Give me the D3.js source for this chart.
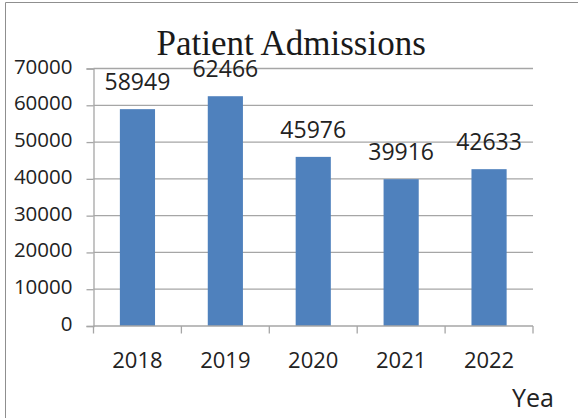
<!DOCTYPE html>
<html>
<head>
<meta charset="utf-8">
<script src="https://cdn.jsdelivr.net/npm/d3@7"></script>
<style>
  html, body { margin: 0; padding: 0; background: #fff; }
  svg { display: block; }
</style>
</head>
<body>
<script>
// Yearly patient admissions
const years = ["2018", "2019", "2020", "2021", "2022"];
const admissions = [58949, 62466, 45976, 39916, 42633];
const yTicks = [0, 10000, 20000, 30000, 40000, 50000, 60000, 70000];
const chartTitle = "Patient Admissions";
const xAxisTitle = "Yea";

const W = 578, H = 418;
const svg = d3.select("body").append("svg").attr("width", W).attr("height", H);

// outer chart frame
svg.append("path")
  .attr("d", "M5.5,420 V2.5 H580")
  .attr("fill", "none").attr("stroke", "#8f8f8f").attr("stroke-width", 1);

const plot = { left: 93.5, right: 533, top: 68.5, bottom: 326 };

const x = d3.scaleBand().domain(years)
  .range([plot.left, plot.right]).paddingInner(0.6).paddingOuter(0.3);
const y = d3.scaleLinear().domain([0, 70000]).range([plot.bottom, plot.top]);

const sans = "'Open Sans', 'Noto Sans', sans-serif";
const gridColor = "#a6a6a6";

// horizontal gridlines
svg.append("g").selectAll("line").data(yTicks.filter(d => d > 0)).join("line")
  .attr("x1", plot.left).attr("x2", plot.right)
  .attr("y1", d => y(d)).attr("y2", d => y(d))
  .attr("stroke", gridColor).attr("stroke-width", 1.3);

// y axis
const yAxis = svg.append("g")
  .attr("transform", `translate(${plot.left},0)`)
  .call(d3.axisLeft(y).tickValues(yTicks).tickFormat(d3.format("d")).tickSize(7).tickPadding(14));
yAxis.select(".domain").attr("stroke", gridColor).attr("stroke-width", 1.3);
yAxis.selectAll(".tick line").attr("stroke", gridColor).attr("stroke-width", 1.3);
yAxis.selectAll(".tick text")
  .attr("font-family", sans).attr("font-size", 20.5).attr("fill", "#222")
  .attr("dy", "0.22em");

// bars
svg.append("g").selectAll("rect").data(years).join("rect")
  .attr("x", d => x(d)).attr("width", x.bandwidth())
  .attr("y", (d, i) => y(admissions[i]))
  .attr("height", (d, i) => y(0) - y(admissions[i]))
  .attr("fill", "#4f81bd");

// x axis with ticks at category boundaries
const step = x.step();
const boundaries = d3.range(years.length + 1).map(i => plot.left + i * step);
svg.append("line")
  .attr("x1", plot.left).attr("x2", plot.right)
  .attr("y1", plot.bottom).attr("y2", plot.bottom)
  .attr("stroke", gridColor).attr("stroke-width", 1.3);
svg.append("g").selectAll("line").data(boundaries).join("line")
  .attr("x1", d => d).attr("x2", d => d)
  .attr("y1", plot.bottom).attr("y2", plot.bottom + 7.5)
  .attr("stroke", gridColor).attr("stroke-width", 1.3);
svg.append("g").selectAll("text").data(years).join("text")
  .attr("x", d => x(d) + x.bandwidth() / 2)
  .attr("y", 368)
  .attr("text-anchor", "middle")
  .attr("font-family", sans).attr("font-size", 22).attr("fill", "#222")
  .text(d => d);

// value labels
svg.append("g").selectAll("text").data(years).join("text")
  .attr("x", d => x(d) + x.bandwidth() / 2)
  .attr("y", (d, i) => y(admissions[i]) - 19)
  .attr("text-anchor", "middle")
  .attr("font-family", sans).attr("font-size", 23).attr("fill", "#222")
  .text((d, i) => admissions[i]);

// title
svg.append("text")
  .attr("x", 156.5).attr("y", 55)
  .attr("font-family", "'Liberation Serif', 'Times New Roman', serif")
  .attr("font-size", 35).attr("fill", "#1a1a1a")
  .text(chartTitle);

// axis title
svg.append("text")
  .attr("x", 512).attr("y", 407)
  .attr("font-family", sans).attr("font-size", 25).attr("fill", "#222")
  .text(xAxisTitle);
</script>
</body>
</html>
